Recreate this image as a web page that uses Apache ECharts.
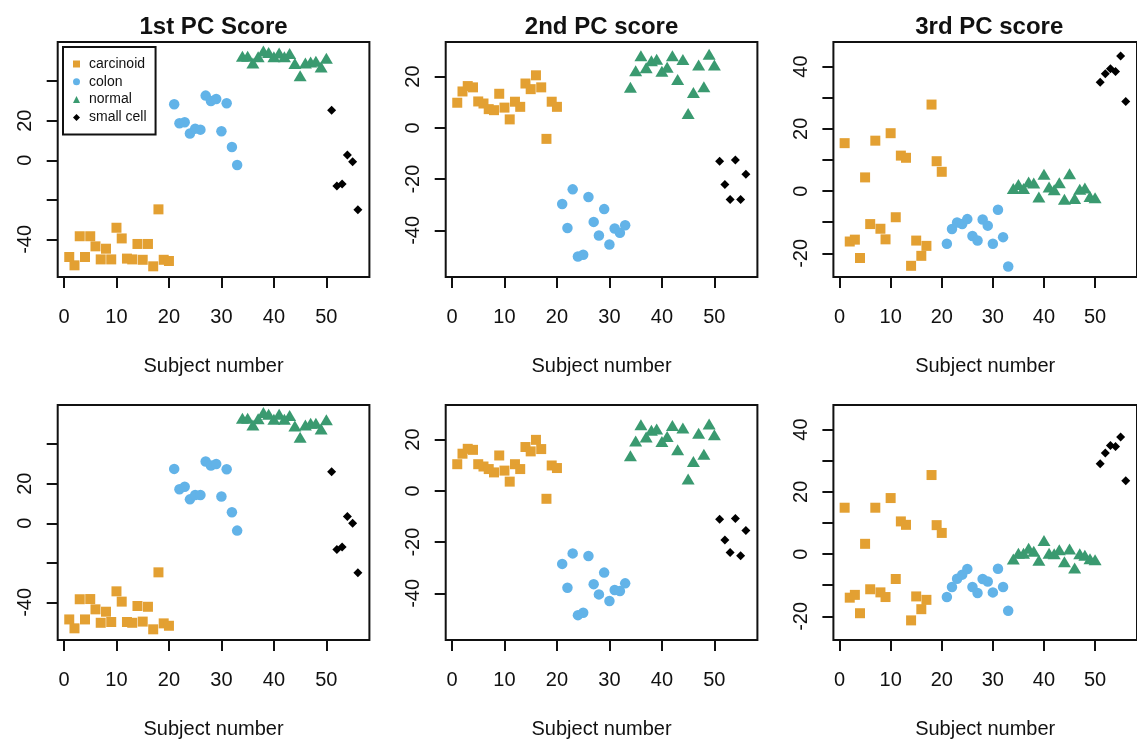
<!DOCTYPE html>
<html><head><meta charset="utf-8">
<script src="https://cdn.jsdelivr.net/npm/echarts@6/dist/echarts.min.js"></script>
<style>html,body{margin:0;padding:0;background:#fff}#c{width:1137px;height:741px}</style>
</head><body><div id="c"></div>
<script>
// ---------- data ----------
const groupNames = ['carcinoid', 'colon', 'normal', 'small cell'];
const groupSizes = [20, 13, 17, 6];
const panelTitles = ['1st PC Score', '2nd PC score', '3rd PC score'];
const xLabel = 'Subject number';
const xTicks = [0, 10, 20, 30, 40, 50];
const pc1Ticks = [-40, -20, 0, 20, 40];
const pc1Labels = [-40, 0, 20];
const pc2Ticks = [-40, -20, 0, 20];
const pc2Labels = [-40, -20, 0, 20];
const pc3Ticks = [-20, -10, 0, 10, 20, 30, 40];
const pc3Labels = [-20, 0, 20, 40];
const xRange = [-1.2, 58.2];
const pc1Range = [-59.0, 59.8];
const pc2Range = [-58.2, 33.5];
const pc3Range = [-27.6, 47.9];

const pc1Top = [-48.9,-53.1,-38.4,-48.9,-38.4,-43.5,-50.1,-44.7,-50.1,-34.1,-39.5,-49.7,-50.1,-42.3,-50.3,-42.3,-53.6,-24.8,-50.3,-50.9,
  28.3,18.7,19.2,13.5,16.0,15.5,32.7,30.0,31.0,14.7,28.8,6.7,-2.4,
  52.6,52.6,49.2,52.3,55.3,54.5,52.3,54.3,52.3,54.0,48.9,42.8,49.2,49.7,50.1,47.2,51.6,
  25.3,-13.0,-12.0,2.7,-0.7,-25.0];
const pc2Top = [9.8,14.2,16.3,15.8,10.3,9.5,7.3,6.9,13.3,7.9,3.3,10.2,8.2,17.3,15.1,20.5,15.8,-4.3,10.2,8.2,
  -29.7,-39.1,-24.0,-50.2,-49.5,-27.0,-36.7,-42.0,-31.7,-45.5,-39.3,-40.9,-38.0,
  15.8,22.3,28.1,23.5,26.2,26.8,22.1,23.6,28.1,18.9,26.7,5.6,13.8,24.5,16.0,28.7,24.5,
  -13.0,-22.1,-28.0,-12.5,-28.0,-18.1];
const pc3Top = [15.4,-16.2,-15.6,-21.5,4.4,-10.6,16.2,-12.1,-15.5,18.6,-8.4,11.4,10.7,-24.0,-15.9,-20.8,-17.6,27.8,9.6,6.2,
  -16.9,-12.2,-10.1,-10.6,-9.0,-14.4,-15.9,-9.1,-11.1,-16.9,-6.0,-14.8,-24.2,
  0.8,2.1,0.8,2.9,2.6,-1.9,5.4,1.3,0.4,2.7,-2.6,5.6,-2.4,0.6,1.0,-1.7,-2.1,
  35.0,37.7,39.3,38.4,43.4,28.8];
const pc1Bottom = [-48.6,-53.1,-38.4,-48.6,-38.3,-43.5,-50.3,-44.7,-49.9,-34.4,-39.6,-49.9,-50.3,-41.8,-49.7,-42.2,-53.6,-24.8,-50.6,-51.8,
  27.5,17.2,18.5,12.1,14.3,14.3,31.2,29.2,30.0,13.5,27.3,5.6,-3.7,
  53.1,53.1,49.7,52.8,56.0,55.1,52.6,55.1,52.6,54.5,49.2,43.5,49.7,50.6,50.6,47.7,52.3,
  26.1,-13.2,-12.0,3.4,0.0,-25.0];
const pc2Bottom = [10.4,14.5,16.4,16.0,10.4,9.5,8.5,7.2,13.8,7.9,3.6,10.4,8.5,17.1,15.4,19.9,16.3,-3.1,9.9,8.9,
  -28.5,-37.8,-24.4,-48.5,-47.6,-25.4,-36.4,-40.4,-31.9,-43.0,-38.7,-39.1,-36.1,
  13.7,19.5,25.8,21.0,23.6,24.1,19.3,21.2,25.5,16.0,24.5,4.6,11.5,22.5,14.3,26.1,21.9,
  -11.1,-19.2,-24.1,-10.8,-25.3,-15.5];
const pc3Bottom = [14.9,-14.0,-13.1,-19.0,3.3,-11.3,14.9,-12.3,-13.8,18.0,-8.0,10.5,9.4,-21.3,-13.6,-17.7,-14.7,25.4,9.3,6.8,
  -13.8,-10.6,-7.9,-6.6,-4.8,-10.6,-12.5,-8.0,-8.8,-12.3,-4.7,-10.6,-18.2,
  -1.6,0.3,0.3,1.9,0.9,-2.0,4.4,0.3,0.1,1.4,-2.5,1.6,-4.5,0.1,-0.4,-1.5,-1.8,
  29.0,32.5,34.9,34.6,37.6,23.6];

// ---------- styling ----------
const FONT = '"Liberation Sans", Arial, Helvetica, sans-serif';
const INK = '#111';
const groupColors = ['#E3A032', '#62B3E8', '#3A9A70', '#000000'];
const groupSymbols = ['rect', 'circle', 'triangle', 'diamond'];
const groupSymbolSizes = [10, 10.5, [13, 11], 9];
const colLeft = [57.7, 445.7, 833.4];
const gridW = 311.7;
const rowTop = [42, 405];
const gridH = 235;

const panels = [
  { scores: pc1Top, range: pc1Range, ticks: pc1Ticks, labels: pc1Labels, row: 0, col: 0 },
  { scores: pc2Top, range: pc2Range, ticks: pc2Ticks, labels: pc2Labels, row: 0, col: 1 },
  { scores: pc3Top, range: pc3Range, ticks: pc3Ticks, labels: pc3Labels, row: 0, col: 2 },
  { scores: pc1Bottom, range: pc1Range, ticks: pc1Ticks, labels: pc1Labels, row: 1, col: 0 },
  { scores: pc2Bottom, range: pc2Range, ticks: pc2Ticks, labels: pc2Labels, row: 1, col: 1 },
  { scores: pc3Bottom, range: pc3Range, ticks: pc3Ticks, labels: pc3Labels, row: 1, col: 2 }
];

const grid = [], xAxis = [], yAxis = [], series = [];
panels.forEach((p, i) => {
  grid.push({
    left: colLeft[p.col], top: rowTop[p.row], width: gridW, height: gridH,
    show: true, borderColor: INK, borderWidth: 2, backgroundColor: 'transparent'
  });
  xAxis.push({
    type: 'value', gridIndex: i, min: xRange[0], max: xRange[1], position: 'bottom',
    axisLine: { show: false, onZero: false }, splitLine: { show: false },
    axisTick: { show: true, inside: false, length: 11, customValues: xTicks, lineStyle: { color: INK, width: 2 } },
    axisLabel: { show: true, customValues: xTicks, margin: 30, fontSize: 20, fontFamily: FONT, color: INK },
    name: xLabel, nameLocation: 'middle', nameGap: 79,
    nameTextStyle: { fontSize: 20, fontFamily: FONT, color: INK }
  });
  yAxis.push({
    type: 'value', gridIndex: i, min: p.range[0], max: p.range[1], position: 'left',
    axisLine: { show: false, onZero: false }, splitLine: { show: false },
    axisTick: { show: true, inside: false, length: 11, customValues: p.ticks, lineStyle: { color: INK, width: 2 } },
    axisLabel: { show: true, customValues: p.labels, rotate: 90, margin: 22, fontSize: 20, fontFamily: FONT, color: INK }
  });
  let start = 0;
  groupNames.forEach((g, k) => {
    const data = [];
    for (let j = 0; j < groupSizes[k]; j++) {
      data.push([start + j + 1, p.scores[start + j]]);
    }
    start += groupSizes[k];
    series.push({
      type: 'scatter', name: g, xAxisIndex: i, yAxisIndex: i, data: data,
      symbol: groupSymbols[k], symbolSize: groupSymbolSizes[k],
      itemStyle: { color: groupColors[k], opacity: 1 },
      silent: true, animation: false, clip: false
    });
  });
});

const graphic = panelTitles.map((t, c) => ({
  type: 'text', x: colLeft[c] + gridW / 2, y: 15,
  style: { text: t, fontSize: 24, fontWeight: 'bold', fontFamily: FONT, fill: INK, align: 'center', verticalAlign: 'top' }
}));

const chart = echarts.init(document.getElementById('c'), null, { renderer: 'canvas' });
chart.setOption({
  animation: false,
  backgroundColor: '#ffffff',
  grid, xAxis, yAxis, series, graphic,
  legend: {
    show: true, data: groupNames, orient: 'vertical', left: 63, top: 47,
    padding: [10, 9, 10, 10], itemGap: 3.8, itemWidth: 7, itemHeight: 7,
    borderColor: INK, borderWidth: 2, backgroundColor: '#fff',
    selectedMode: false,
    textStyle: { fontSize: 14, fontFamily: FONT, color: INK, lineHeight: 14, padding: [0, 0, 0, 4] }
  }
});
</script></body></html>
